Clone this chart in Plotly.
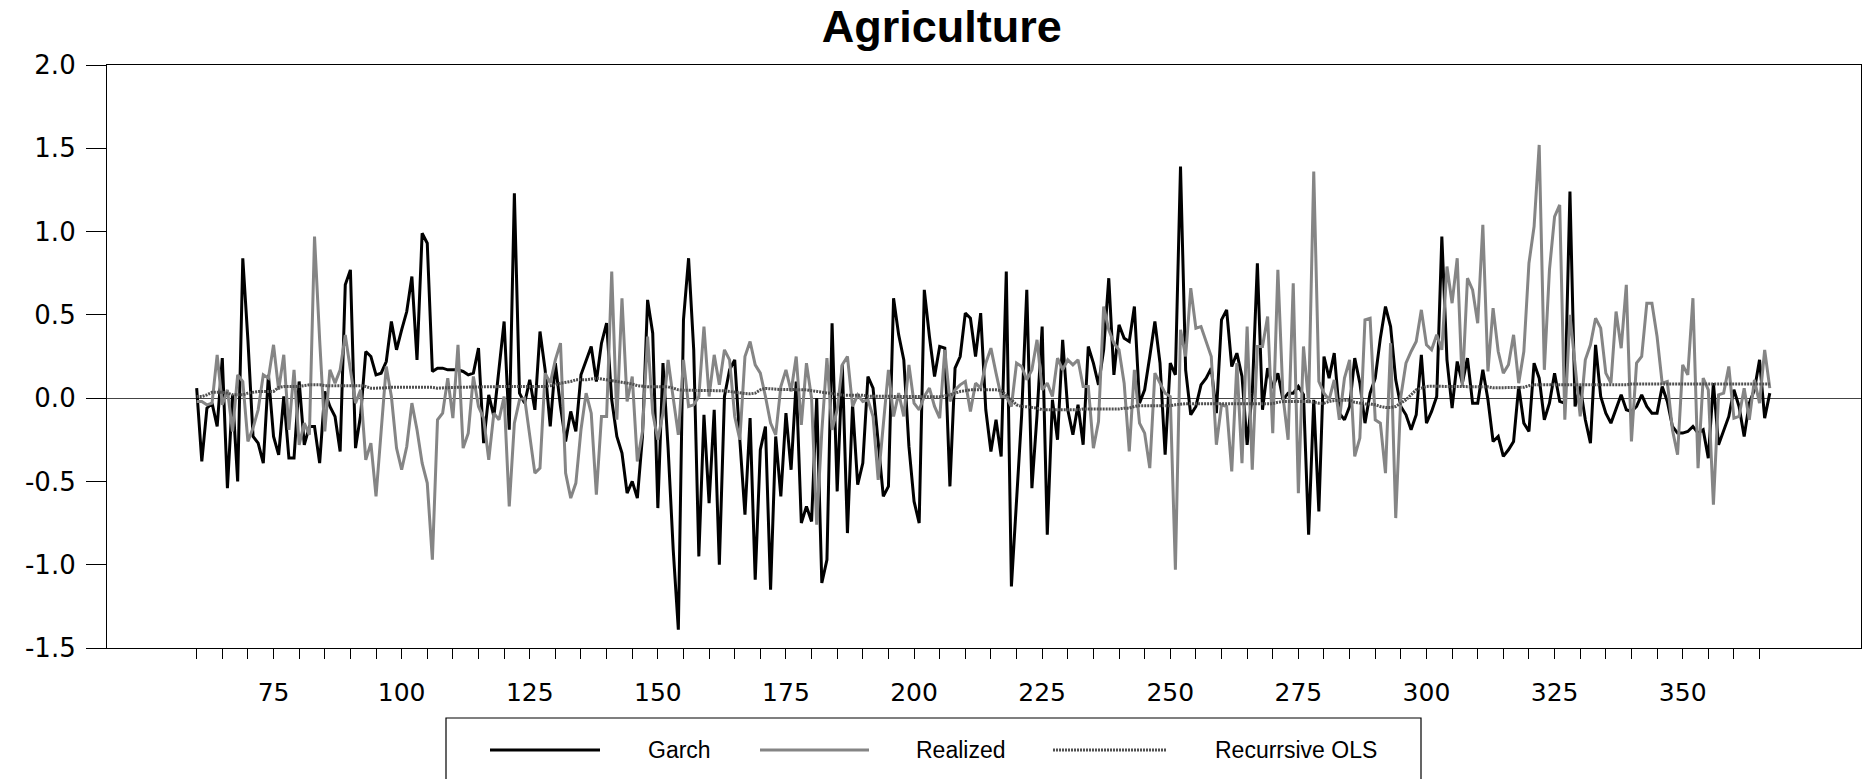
import plotly.graph_objects as go

t_start = 60
garch = [0.06,-0.38,-0.06,-0.03,-0.17,0.24,-0.54,0.02,-0.50,0.84,
0.35,-0.23,-0.27,-0.39,0.14,-0.23,-0.34,0.01,-0.36,-0.36,
0.10,-0.28,-0.17,-0.17,-0.39,0.04,-0.05,-0.11,-0.32,0.68,
0.77,-0.30,-0.10,0.28,0.25,0.14,0.15,0.22,0.46,0.29,
0.41,0.52,0.73,0.23,0.99,0.93,0.16,0.18,0.18,0.17,
0.17,0.17,0.16,0.14,0.15,0.30,-0.27,0.02,-0.11,0.17,
0.46,-0.19,1.23,0.03,-0.03,0.11,-0.07,0.40,0.17,-0.17,
0.21,-0.05,-0.26,-0.08,-0.20,0.14,0.22,0.31,0.10,0.33,
0.45,-0.01,-0.23,-0.33,-0.57,-0.50,-0.60,-0.23,0.59,0.39,
-0.66,0.21,-0.30,-0.91,-1.39,0.47,0.84,0.29,-0.95,-0.10,
-0.63,-0.07,-1.00,0.01,0.17,0.23,-0.25,-0.70,-0.12,-1.09,
-0.31,-0.17,-1.15,-0.23,-0.59,-0.09,-0.43,0.10,-0.75,-0.65,
-0.74,0.00,-1.11,-0.97,0.45,-0.56,0.20,-0.81,-0.04,-0.52,
-0.39,0.13,0.06,-0.27,-0.59,-0.53,0.60,0.38,0.23,-0.29,
-0.62,-0.75,0.65,0.37,0.13,0.31,0.30,-0.53,0.18,0.25,
0.51,0.48,0.25,0.51,-0.07,-0.32,-0.13,-0.35,0.76,-1.13,
-0.60,-0.10,0.65,-0.54,-0.10,0.43,-0.82,-0.01,-0.25,0.35,
-0.07,-0.22,-0.04,-0.28,0.31,0.21,0.08,0.29,0.72,0.14,
0.44,0.36,0.34,0.55,-0.03,0.05,0.25,0.46,0.21,-0.34,
0.21,0.14,1.39,0.17,-0.10,-0.05,0.08,0.12,0.18,-0.09,
0.47,0.53,0.19,0.27,0.13,-0.28,0.03,0.81,-0.07,0.18,
0.06,0.15,-0.01,0.03,0.03,0.07,0.02,-0.82,-0.01,-0.68,
0.25,0.12,0.27,-0.09,-0.13,-0.05,0.24,0.09,-0.15,0.03,
0.12,0.36,0.55,0.43,0.11,-0.05,-0.10,-0.19,-0.10,0.26,
-0.15,-0.08,0.01,0.97,0.23,-0.06,0.22,0.09,0.24,-0.03,
-0.03,0.17,-0.01,-0.26,-0.23,-0.35,-0.31,-0.26,0.07,-0.15,
-0.20,0.21,0.12,-0.13,-0.03,0.15,-0.02,-0.03,1.24,-0.05,
0.07,-0.13,-0.27,0.32,0.01,-0.09,-0.15,-0.07,0.02,-0.07,
-0.08,-0.05,0.02,-0.05,-0.09,-0.09,0.07,-0.02,-0.17,-0.21,
-0.21,-0.20,-0.17,-0.21,-0.19,-0.36,0.09,-0.28,-0.19,-0.11,
0.05,-0.05,-0.23,-0.03,0.05,0.23,-0.12,0.03]

realized = [-0.02,-0.02,-0.04,-0.03,0.26,-0.04,0.05,-0.20,0.14,0.10,
-0.26,-0.18,-0.07,0.14,0.12,0.32,0.05,0.26,-0.19,0.17,
-0.28,-0.15,-0.22,0.97,0.35,-0.20,0.17,0.09,0.17,0.38,
0.17,-0.03,0.05,-0.37,-0.27,-0.59,-0.20,0.19,0.01,-0.30,
-0.43,-0.29,-0.03,-0.19,-0.39,-0.51,-0.97,-0.13,-0.09,0.12,
-0.12,0.32,-0.30,-0.21,0.13,-0.05,-0.12,-0.37,-0.09,-0.13,
0.01,-0.65,-0.15,-0.01,0.00,-0.23,-0.45,-0.42,0.15,0.09,
0.23,0.33,-0.45,-0.60,-0.51,-0.19,0.03,-0.09,-0.58,-0.11,
-0.11,0.76,-0.13,0.60,-0.02,0.13,-0.38,-0.20,0.37,-0.09,
-0.25,-0.09,0.23,0.00,-0.22,0.23,-0.05,-0.04,0.01,0.43,
0.01,0.26,0.08,0.29,0.23,-0.11,-0.25,0.25,0.34,0.20,
0.15,0.01,-0.15,-0.22,0.07,0.17,0.04,0.25,-0.16,0.21,
0.00,-0.76,-0.20,0.24,-0.19,-0.07,0.20,0.25,-0.05,0.02,
-0.02,-0.01,-0.11,-0.49,-0.15,0.17,-0.11,0.03,-0.11,0.20,
-0.03,-0.07,0.01,0.06,-0.05,-0.12,0.29,-0.02,0.05,0.08,
0.10,-0.08,0.09,0.06,0.21,0.30,0.15,0.01,0.01,-0.05,
0.21,0.19,0.11,0.17,0.35,0.05,0.09,0.01,0.24,0.17,
0.23,0.20,0.23,0.07,0.07,-0.30,-0.14,0.55,0.41,0.33,
0.29,0.09,-0.32,0.17,-0.15,-0.21,-0.42,0.15,0.09,0.03,
0.01,-1.03,0.41,0.25,0.66,0.42,0.43,0.34,0.25,-0.28,
-0.04,-0.05,-0.44,0.21,-0.39,0.43,-0.43,0.31,0.31,0.49,
-0.21,0.77,0.01,-0.25,0.69,-0.57,0.31,-0.03,1.36,0.10,
0.03,-0.01,0.11,-0.13,0.12,0.23,-0.35,-0.24,0.47,0.48,
-0.13,-0.15,-0.45,0.33,-0.72,0.01,0.21,0.28,0.34,0.53,
0.32,0.29,0.38,0.29,0.79,0.57,0.84,0.07,0.72,0.65,
0.45,1.04,0.16,0.54,0.28,0.15,0.20,0.38,0.09,0.28,
0.81,1.03,1.52,0.17,0.77,1.09,1.16,-0.13,0.50,0.20,
-0.11,0.23,0.32,0.48,0.42,0.15,0.09,0.52,0.30,0.68,
-0.26,0.21,0.25,0.57,0.57,0.37,0.09,0.10,-0.19,-0.34,
0.20,0.14,0.60,-0.42,0.12,0.05,-0.64,0.02,0.03,0.19,
-0.12,-0.11,0.06,-0.13,0.11,-0.03,0.29,0.06]

recursive_ols = [0.010,0.010,0.020,0.035,0.035,0.035,0.030,0.020,0.020,0.020,
0.030,0.035,0.040,0.040,0.040,0.040,0.065,0.070,0.070,0.070,
0.070,0.075,0.080,0.080,0.080,0.075,0.075,0.075,0.075,0.075,
0.075,0.075,0.075,0.070,0.060,0.060,0.060,0.062,0.065,0.065,
0.065,0.063,0.063,0.065,0.067,0.067,0.065,0.060,0.060,0.062,
0.064,0.065,0.066,0.066,0.067,0.068,0.068,0.069,0.070,0.070,
0.070,0.070,0.070,0.070,0.070,0.070,0.070,0.070,0.070,0.075,
0.080,0.090,0.095,0.100,0.110,0.110,0.110,0.115,0.120,0.115,
0.110,0.105,0.100,0.095,0.090,0.085,0.075,0.070,0.068,0.068,
0.068,0.068,0.068,0.060,0.050,0.048,0.046,0.046,0.046,0.046,
0.046,0.044,0.044,0.044,0.040,0.035,0.030,0.028,0.026,0.030,
0.050,0.058,0.056,0.052,0.052,0.052,0.052,0.052,0.052,0.050,
0.045,0.040,0.035,0.030,0.025,0.022,0.018,0.018,0.018,0.018,
0.018,0.012,0.012,0.012,0.012,0.012,0.008,0.008,0.008,0.008,
0.008,0.008,0.008,0.008,0.008,0.008,0.015,0.020,0.030,0.040,
0.045,0.050,0.050,0.050,0.050,0.050,0.050,0.045,0.020,-0.010,
-0.040,-0.050,-0.052,-0.055,-0.060,-0.070,-0.070,-0.070,-0.070,-0.070,
-0.070,-0.070,-0.070,-0.065,-0.065,-0.065,-0.065,-0.065,-0.065,-0.065,
-0.065,-0.060,-0.060,-0.050,-0.045,-0.045,-0.045,-0.045,-0.045,-0.045,
-0.045,-0.040,-0.035,-0.033,-0.033,-0.033,-0.033,-0.033,-0.033,-0.033,
-0.033,-0.033,-0.033,-0.033,-0.033,-0.033,-0.033,-0.033,-0.033,-0.033,
-0.033,-0.025,-0.020,-0.020,-0.020,-0.020,-0.020,-0.020,-0.025,-0.030,
-0.030,-0.020,-0.015,-0.012,-0.012,-0.012,-0.025,-0.030,-0.035,-0.035,
-0.040,-0.050,-0.056,-0.056,-0.050,-0.030,-0.010,0.020,0.050,0.060,
0.070,0.072,0.070,0.070,0.070,0.070,0.070,0.070,0.070,0.070,
0.068,0.068,0.068,0.062,0.062,0.062,0.062,0.062,0.062,0.065,
0.075,0.080,0.080,0.080,0.080,0.080,0.080,0.080,0.080,0.080,
0.080,0.080,0.080,0.080,0.080,0.080,0.080,0.080,0.080,0.080,
0.085,0.085,0.085,0.085,0.085,0.085,0.085,0.085,0.085,0.085,
0.085,0.085,0.085,0.085,0.085,0.085,0.085,0.085,0.085,0.085,
0.085,0.085,0.085,0.085,0.085,0.085,0.085,0.085]

x_tick_vals = list(range(60, 370, 5))
x_tick_labels = [str(v) if v % 25 == 0 else "" for v in x_tick_vals]
y_tick_vals = [-1.5, -1.0, -0.5, 0.0, 0.5, 1.0, 1.5, 2.0]
y_tick_labels = ["-1.5", "-1.0", "-0.5", "0.0", "0.5", "1.0", "1.5", "2.0"]
series_names = ["Garch", "Realized", "Recurrsive OLS"]

t = list(range(t_start, t_start + len(garch)))

fig = go.Figure()
fig.add_trace(go.Scatter(x=t, y=garch, mode="lines", name=series_names[0],
                         line=dict(color="#000000", width=3), showlegend=False))
fig.add_trace(go.Scatter(x=t, y=realized, mode="lines", name=series_names[1],
                         line=dict(color="#858585", width=3), showlegend=False))
fig.add_trace(go.Scatter(x=t, y=recursive_ols, mode="lines", name=series_names[2],
                         line=dict(color="#505050", width=3, dash="2px,1px"), showlegend=False))

fig.update_layout(
    width=1865, height=779,
    margin=dict(l=107, r=4, t=65, b=131),
    paper_bgcolor="white", plot_bgcolor="white",
    title=dict(text="<b>Agriculture</b>", x=0.505, xanchor="center", y=0.966, yanchor="middle",
               font=dict(family="Liberation Sans, Arial", size=45, color="black")),
    xaxis=dict(range=[42.5, 384.8], tickmode="array", tickvals=x_tick_vals, ticktext=x_tick_labels,
               ticks="outside", ticklen=10, tickwidth=1.2, tickcolor="black",
               showline=True, linecolor="black", linewidth=1.2, mirror=True,
               showgrid=False, zeroline=False, ticklabelstandoff=12,
               tickfont=dict(family="DejaVu Sans", size=25, color="black")),
    yaxis=dict(range=[-1.5, 2.0], tickmode="array", tickvals=y_tick_vals, ticktext=y_tick_labels,
               ticks="outside", ticklen=20, tickwidth=1.2, tickcolor="black",
               showline=True, linecolor="black", linewidth=1.2, mirror=True,
               showgrid=False, zeroline=True, zerolinecolor="#444444", zerolinewidth=1.4,
               ticklabelstandoff=5,
               tickfont=dict(family="DejaVu Sans", size=26, color="black")),
)

# Legend drawn as a box below the plot
def px(xp):
    return (xp - 107) / 1754.0

def py(yp):
    return (648 - yp) / 583.0

fig.add_shape(type="rect", xref="paper", yref="paper", x0=px(446), x1=px(1421), y0=py(800), y1=py(718),
              line=dict(color="black", width=1.2), fillcolor="white", layer="above")
leg_y = py(750)
styles = [dict(color="#000000", width=3), dict(color="#858585", width=3),
          dict(color="#505050", width=3, dash="2px,1px")]
line_x = [(490, 600), (760, 869), (1053, 1166)]
text_x = [679, 961, 1296]
for name, st, (a, b), tx in zip(series_names, styles, line_x, text_x):
    fig.add_shape(type="line", xref="paper", yref="paper", x0=px(a), x1=px(b), y0=leg_y, y1=leg_y,
                  line=st, layer="above")
    fig.add_annotation(text=name, xref="paper", yref="paper", x=px(tx), y=leg_y,
                       xanchor="center", yanchor="middle", showarrow=False,
                       font=dict(family="Liberation Sans, Arial", size=23, color="black"))

fig.write_html("out.html")
